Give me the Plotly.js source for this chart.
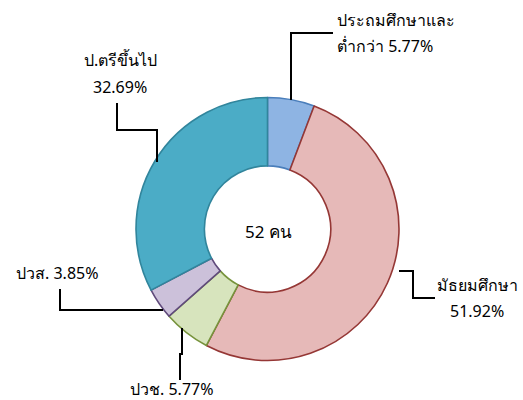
<!DOCTYPE html>
<html><head><meta charset="utf-8">
<script src="https://cdn.plot.ly/plotly-3.0.1.min.js"></script>
<style>html,body{margin:0;padding:0;background:#fff}</style>
</head><body>
<div id="chart" style="width:523px;height:400px"></div>
<script>
const categories = ["ประถมศึกษาและต่ำกว่า", "มัธยมศึกษา", "ปวช.", "ปวส.", "ป.ตรีขึ้นไป"];
const counts = [3, 27, 3, 2, 17];
const pctLabels = ["5.77%", "51.92%", "5.77%", "3.85%", "32.69%"];
const labelLine1 = ["ประถมศึกษาและ", "มัธยมศึกษา", "ปวช. 5.77%", "ปวส. 3.85%", "ป.ตรีขึ้นไป"];
const labelLine2 = ["ต่ำกว่า 5.77%", "51.92%", "", "", "32.69%"];
const fillColors = ["#8EB4E3", "#E6B9B8", "#D7E4BD", "#CCC1DA", "#4BACC6"];
const lineColors = ["#4A7EBB", "#953735", "#77933C", "#604A7B", "#31859C"];
const total = counts.reduce((a, b) => a + b, 0);

const W = 523, H = 400;
const px = x => x / W, py = y => 1 - y / H;
const font = {family: "Tahoma, 'Noto Sans', 'DejaVu Sans', sans-serif", size: 16, color: "#000"};

const trace = {
  type: "pie", values: counts, labels: categories, hole: 0.48, sort: false,
  direction: "clockwise", rotation: 0, textinfo: "none", hoverinfo: "label+percent",
  marker: {colors: fillColors, line: {color: lineColors, width: 1.6}},
  domain: {x: [px(136), px(399)], y: [py(360.5), py(97.5)]},
  showlegend: false
};

function path(pts) {
  return {type: "path", xref: "paper", yref: "paper",
    path: pts.map((p, i) => (i ? "L" : "M") + px(p[0]) + "," + py(p[1])).join(" "),
    line: {color: "#000", width: 2}};
}
const shapes = [
  path([[291, 100], [291, 33], [333, 33]]),
  path([[117, 103], [117, 130], [157, 130], [157, 162]]),
  path([[60, 289], [60, 310], [163, 310]]),
  path([[182, 328], [182, 354], [180, 354], [180, 380]]),
  path([[399, 271], [413, 271], [413, 298], [435, 298]])
];
const ann = (x, y, t, xa) => ({xref: "paper", yref: "paper", x: px(x), y: py(y), text: t, showarrow: false,
  xanchor: xa, yanchor: "middle", font: font});
// [x, y1, y2, anchor] per slice label
const pos = [[335, 20, 46, "left"], [477, 285, 311, "center"], [172, 389, 0, "center"], [57, 273, 0, "center"], [120, 60, 87, "center"]];
const annotations = [];
pos.forEach((p, i) => {
  annotations.push(ann(p[0], p[1], labelLine1[i], p[3]));
  if (labelLine2[i]) annotations.push(ann(p[0], p[2], labelLine2[i], p[3]));
});
annotations.push({xref: "paper", yref: "paper", x: px(268), y: py(231), text: total + " คน", showarrow: false,
   font: {family: font.family, size: 17, color: "#000"}});

Plotly.newPlot("chart", [trace], {
  width: W, height: H, margin: {l: 0, r: 0, t: 0, b: 0},
  paper_bgcolor: "#fff", shapes: shapes, annotations: annotations
}, {displayModeBar: false, staticPlot: true});
</script>
</body></html>
